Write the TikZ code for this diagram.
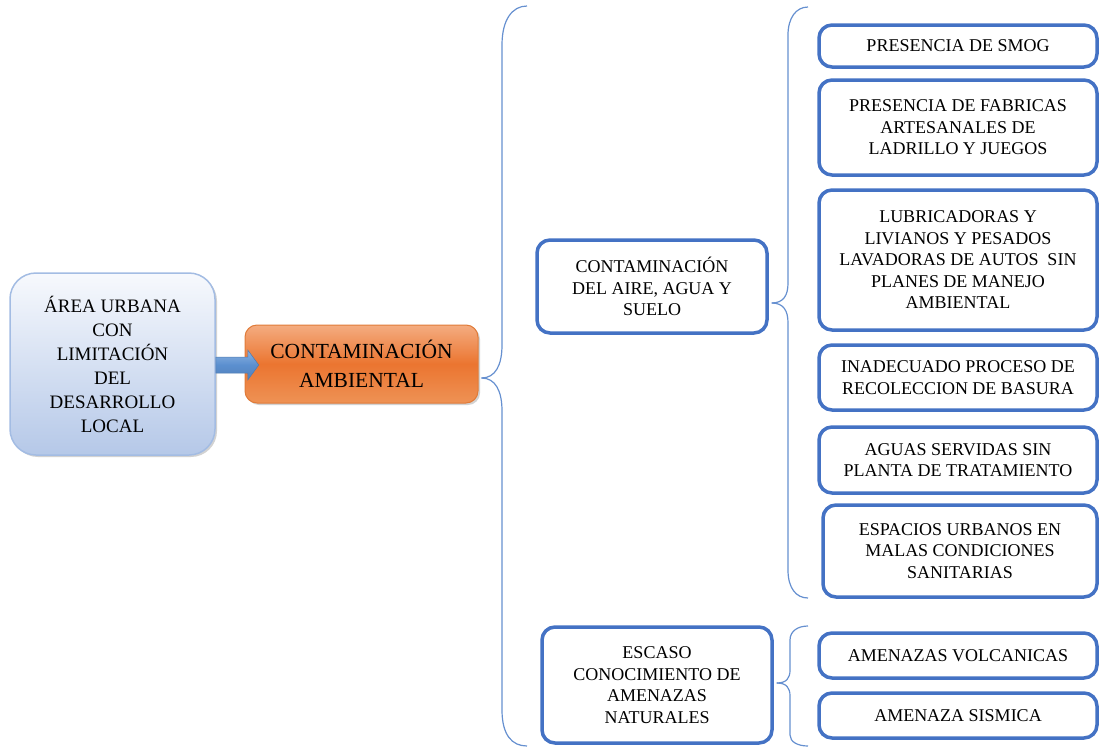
\documentclass[tikz,border=0pt]{standalone}
\usepackage{fontspec}
\setmainfont{Liberation Serif}
\usetikzlibrary{shadows}
\definecolor{boxblue}{HTML}{4472C4}
\definecolor{braceblue}{HTML}{6690D0}
\definecolor{lbtop}{HTML}{F7F9FD}
\definecolor{lbbot}{HTML}{B5C8E8}
\definecolor{lbdraw}{HTML}{A3BCE3}
\definecolor{ortop}{HTML}{F4AC80}
\definecolor{ormid}{HTML}{EB7530}
\definecolor{orbot}{HTML}{EE9255}
\definecolor{ordraw}{HTML}{E07B39}
\definecolor{arrblue}{HTML}{5B8FCF}
\definecolor{arrtop}{HTML}{8DB4E2}
\begin{document}
\begin{tikzpicture}[x=1pt,y=-1pt,
  bluebox/.style={draw=boxblue, line width=3.5pt, rounded corners=13pt, fill=white,
    align=center, inner sep=0pt, font=\fontsize{18}{21.5}\selectfont},
  brace/.style={draw=braceblue, line width=1.2pt},
  startbox/.style={draw=lbdraw, line width=1.5pt, rounded corners=26pt, top color=lbtop,
    bottom color=lbbot, align=center, inner sep=0pt, font=\fontsize{19}{24}\selectfont,
    drop shadow={shadow xshift=2pt, shadow yshift=-2pt, fill=black!35}},
  mainbox/.style={draw=ordraw, line width=1pt, rounded corners=12pt, top color=ortop,
    bottom color=orbot, middle color=ormid, align=center, inner sep=0pt,
    font=\fontsize{21.5}{29}\selectfont,
    drop shadow={shadow xshift=2pt, shadow yshift=-2pt, fill=black!35}},
  arrowshape/.style={draw=arrblue!85!black, line width=0.5pt, top color=arrtop,
    bottom color=arrblue!90!black, middle color=arrblue}
]
\useasboundingbox (0,0) rectangle (1100,747);

\node[startbox, minimum width=205, minimum height=182] (area) at (112.5,364)
  {ÁREA URBANA\\CON\\LIMITACIÓN\\DEL\\DESARROLLO\\LOCAL};
\node[mainbox, minimum width=233, minimum height=78] (cont) at (361.5,364)
  {CONTAMINACIÓN\\AMBIENTAL};
\draw[arrowshape] ([shift={(0,-7)}]area.east) -- ++(32,0) -- ++(0,-7) -- ++(11,15)
  -- ++(-11,15) -- ++(0,-7) -- ++(-32,0) -- cycle;

\node[bluebox, minimum width=230, minimum height=93] (m1) at (652,286.5)
  {CONTAMINACIÓN\\DEL AIRE, AGUA Y\\SUELO};
\node[bluebox, minimum width=230, minimum height=116] (m2) at (657,685)
  {ESCASO\\CONOCIMIENTO DE\\AMENAZAS\\NATURALES};

\node[bluebox, minimum width=278, minimum height=42] (r1) at (958,46)
  {PRESENCIA DE SMOG};
\node[bluebox, minimum width=278, minimum height=95] (r2) at (958,127.5)
  {PRESENCIA DE FABRICAS\\ARTESANALES DE\\LADRILLO Y JUEGOS};
\node[bluebox, minimum width=278, minimum height=140] (r3) at (958,260)
  {LUBRICADORAS Y\\LIVIANOS Y PESADOS\\LAVADORAS DE AUTOS\ \ SIN\\PLANES DE MANEJO\\AMBIENTAL};
\node[bluebox, minimum width=278, minimum height=65] (r4) at (958,377.5)
  {INADECUADO PROCESO DE\\RECOLECCION DE BASURA};
\node[bluebox, minimum width=278, minimum height=66] (r5) at (958,460)
  {AGUAS SERVIDAS SIN\\PLANTA DE TRATAMIENTO};
\node[bluebox, minimum width=274, minimum height=92] (r6) at (960,551)
  {ESPACIOS URBANOS EN\\MALAS CONDICIONES\\SANITARIAS};
\node[bluebox, minimum width=278, minimum height=45] (r7) at (958,655.5)
  {AMENAZAS VOLCANICAS};
\node[bluebox, minimum width=278, minimum height=45] (r8) at (958,715.5)
  {AMENAZA SISMICA};

% brace from main box to the two groups
\coordinate (ta) at ([shift={(3,14)}]cont.east);
\coordinate (atop) at (527,6);
\coordinate (abot) at (527,746);
\draw[brace] (ta) .. controls ++(14,0) and (502,365) .. (502,345) -- (502,45)
  .. controls (502,20) and (512,6) .. (atop);
\draw[brace] (ta) .. controls ++(14,0) and (502,391) .. (502,411) -- (502,710)
  .. controls (502,735) and (512,746) .. (abot);

% brace from m1 to its six causes
\coordinate (tb) at ([shift={(3,16.5)}]m1.east);
\coordinate (btop) at (808,7);
\coordinate (bbot) at (808,598);
\draw[brace] (tb) .. controls ++(12,0) and (788,295) .. (788,283) -- (788,35)
  .. controls (788,18) and (796,7) .. (btop);
\draw[brace] (tb) .. controls ++(12,0) and (788,311) .. (788,323) -- (788,570)
  .. controls (788,588) and (796,598) .. (bbot);

% brace from m2 to its two threats
\coordinate (tc) at ([shift={(3,-2)}]m2.east);
\coordinate (ctop) at (808,626);
\coordinate (cbot) at (808,746);
\draw[brace] (tc) .. controls ++(10,0) and (790,678) .. (790,670) -- (790,640)
  .. controls (790,631) and (798,626) .. (ctop);
\draw[brace] (tc) .. controls ++(10,0) and (790,688) .. (790,696) -- (790,735)
  .. controls (790,742) and (798,746) .. (cbot);
\end{tikzpicture}
\end{document}
